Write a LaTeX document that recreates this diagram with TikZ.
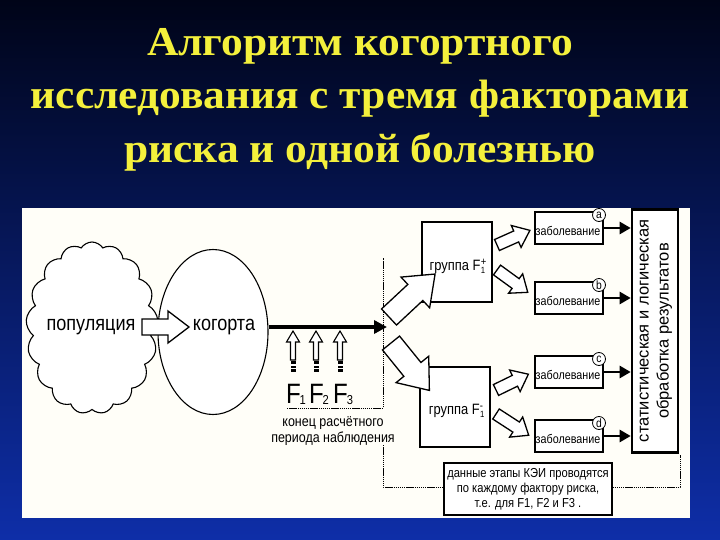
\documentclass[tikz,border=0pt]{standalone}
\usepackage{fontspec}
\setmainfont{Liberation Serif}
\newfontfamily\nar[FakeStretch=0.86]{Liberation Sans}
\newfontfamily\sansr{Liberation Sans}
\usetikzlibrary{shapes.symbols,shapes.geometric,arrows.meta}
\definecolor{bgtop}{RGB}{0,4,24}
\definecolor{bgbot}{RGB}{14,46,168}
\definecolor{titley}{RGB}{244,240,60}
\definecolor{panel}{RGB}{255,254,248}
\newcommand\blkarr[7]{%
  \draw[blkline,shift={(#1,#2)},rotate=#3]
    (0,-#5) -- (#4-#7,-#5) -- (#4-#7,-#6) -- (#4,0) -- (#4-#7,#6) -- (#4-#7,#5) -- (0,#5) -- cycle;}
\newcommand\grpF[1]{группа F\kern0.5pt\raisebox{-3pt}{\fontsize{9}{9}\selectfont 1}\kern-4.5pt\raisebox{5pt}{\fontsize{11}{11}\selectfont #1}}
\begin{document}
\begin{tikzpicture}[x=1pt,y=-1pt,
  blkline/.style={draw=black,fill=white,line width=1.3pt,line join=miter},
  boxn/.style={draw=black,line width=1.1pt,fill=white,inner sep=0pt},
  lbl/.style={font=\nar\fontsize{12.5}{13}\selectfont,inner sep=0pt},
  thk/.style={line width=2.6pt,-{Triangle[length=11pt,width=12pt]}},
  dots/.style={line width=1pt,dash pattern=on 1.4pt off 0.7pt},
  ttl/.style={text=titley,font=\fontsize{41}{44}\selectfont\bfseries},
  letter/.style={circle,draw=black,line width=0.8pt,fill=white,inner sep=0pt,minimum size=13pt,font=\nar\fontsize{12}{12}\selectfont}]
\useasboundingbox (0,0) rectangle (720,540);
\shade[top color=bgtop,bottom color=bgbot] (0,0) rectangle (720,540);
\fill[panel] (22,208) rectangle (690,518);
% title
\node[ttl] (t1) at (360,46) {\scalebox{1.06}[1]{Алгоритм когортного}};
\node[ttl] (t2) at (360,99) {\scalebox{1.06}[1]{исследования с тремя факторами}};
\node[ttl] (t3) at (360,152) {\scalebox{1.06}[1]{риска и одной болезнью}};
% cloud and ellipse
\node[cloud,cloud puffs=17,cloud puff arc=115,aspect=0.75,draw=black,line width=1.1pt,fill=white,
      minimum width=132pt,minimum height=172pt,inner sep=0pt] (cloud) at (92,328) {};
\node[ellipse,draw=black,line width=1.1pt,fill=white,minimum width=110pt,minimum height=165pt,inner sep=0pt] (kog) at (213,332) {};
\node[font=\nar\fontsize{21}{22}\selectfont,inner sep=0pt] (pop) at (91,327) {популяция};
\blkarr{142}{327}{0}{47}{8}{16}{21}
\node[font=\nar\fontsize{21}{22}\selectfont,inner sep=0pt] (kogt) at (224,327) {когорта};
% main line
\coordinate (lineS) at (269,327);
\coordinate (lineE) at (387,327);
\draw[line width=3.5pt,-{Triangle[length=13pt,width=13pt]}] (lineS) -- (lineE);
% F arrows
\foreach \xx/\n in {293/1,316/2,340/3}{
  \draw[black,line width=1.1pt,fill=white] (\xx-2.5,360) -- (\xx-2.5,342) -- (\xx-6.5,342) -- (\xx,331) -- (\xx+6.5,342) -- (\xx+2.5,342) -- (\xx+2.5,360) -- cycle;
  \fill[black] (\xx-2.5,361) rectangle (\xx+2.5,372);
  \fill[white] (\xx-2.5,364) rectangle (\xx+2.5,365.5);
  \fill[white] (\xx-2.5,368) rectangle (\xx+2.5,369.2);
  \node[font=\nar\fontsize{28}{28}\selectfont,inner sep=0pt,anchor=base] (F\n) at (\xx+3,403) {F\kern-1pt\raisebox{-1pt}{\fontsize{13}{13}\selectfont\n}};
}
% dotted L
\coordinate (d1) at (287,408);
\coordinate (d2) at (383,408);
\coordinate (d3) at (383,258);
\draw[dots] (d1) -- (d2) -- (d3);
\node[font=\nar\fontsize{14.5}{15}\selectfont,align=center] (end) at (333,431) {конец расчётного\\[1pt]периода наблюдения};
% group boxes
\node[boxn,minimum width=70pt,minimum height=80pt] (gp) at (457,262) {};
\node[font=\nar\fontsize{15}{16}\selectfont,anchor=base] at (458,270) {\grpF{+}};
\node[boxn,minimum width=70pt,minimum height=80pt] (gm) at (455,407) {};
\node[font=\nar\fontsize{15}{16}\selectfont,anchor=base] at (456,414) {\grpF{-}};
% big arrows (drawn over the group boxes)
\blkarr{389}{317}{43}{63}{11}{21}{27}
\blkarr{391}{343}{-51}{61}{11}{21}{27}
% disease boxes
\foreach \nm/\yc/\l in {a/228/a,b/298/b,c/372/c,d/436/d}{
  \node[boxn,minimum width=68pt,minimum height=32pt] (\nm) at (569,\yc) {};
  \node[lbl] at (568,\yc+3) {заболевание};
  \node[letter] (L\nm) at (599,\yc-13) {\l};
}
% small block arrows
\blkarr{497}{245}{24}{36}{6}{12}{15}
\blkarr{497}{270}{-36}{38}{6}{12}{15}
\blkarr{496}{390}{26}{36}{6}{12}{15}
\blkarr{496}{414}{-33}{39}{6}{12}{15}
% result box
\node[draw=black,line width=2.6pt,fill=white,minimum width=46pt,minimum height=243pt,inner sep=0pt] (res) at (655,331) {};
\node[rotate=90,font=\sansr\fontsize{16.5}{20}\selectfont,align=center] at (656,331) {статистическая и логическая\\обработка результатов};
% thick arrows to result
\foreach \nm in {a,b,c,d}{
  \draw[thk] (\nm.east) -- (\nm.east -| res.west);
}
% bottom note
\node[boxn,minimum width=168pt,minimum height=52pt] (note) at (528,489) {};
\node[lbl,align=center,font=\nar\fontsize{13}{15}\selectfont] at (528,489) {данные этапы КЭИ проводятся\\по каждому фактору риска,\\т.е. для F1, F2 и F3 .};
\coordinate (b1) at (383,445);
\coordinate (b2) at (383,487);
\coordinate (b3) at (680,487);
\coordinate (b4) at (680,455);
\draw[dots] (b1) -- (b2) -- (b2 -| note.west);
\draw[dots] (b2 -| note.east) -- (b3) -- (b4);
\end{tikzpicture}
\end{document}
